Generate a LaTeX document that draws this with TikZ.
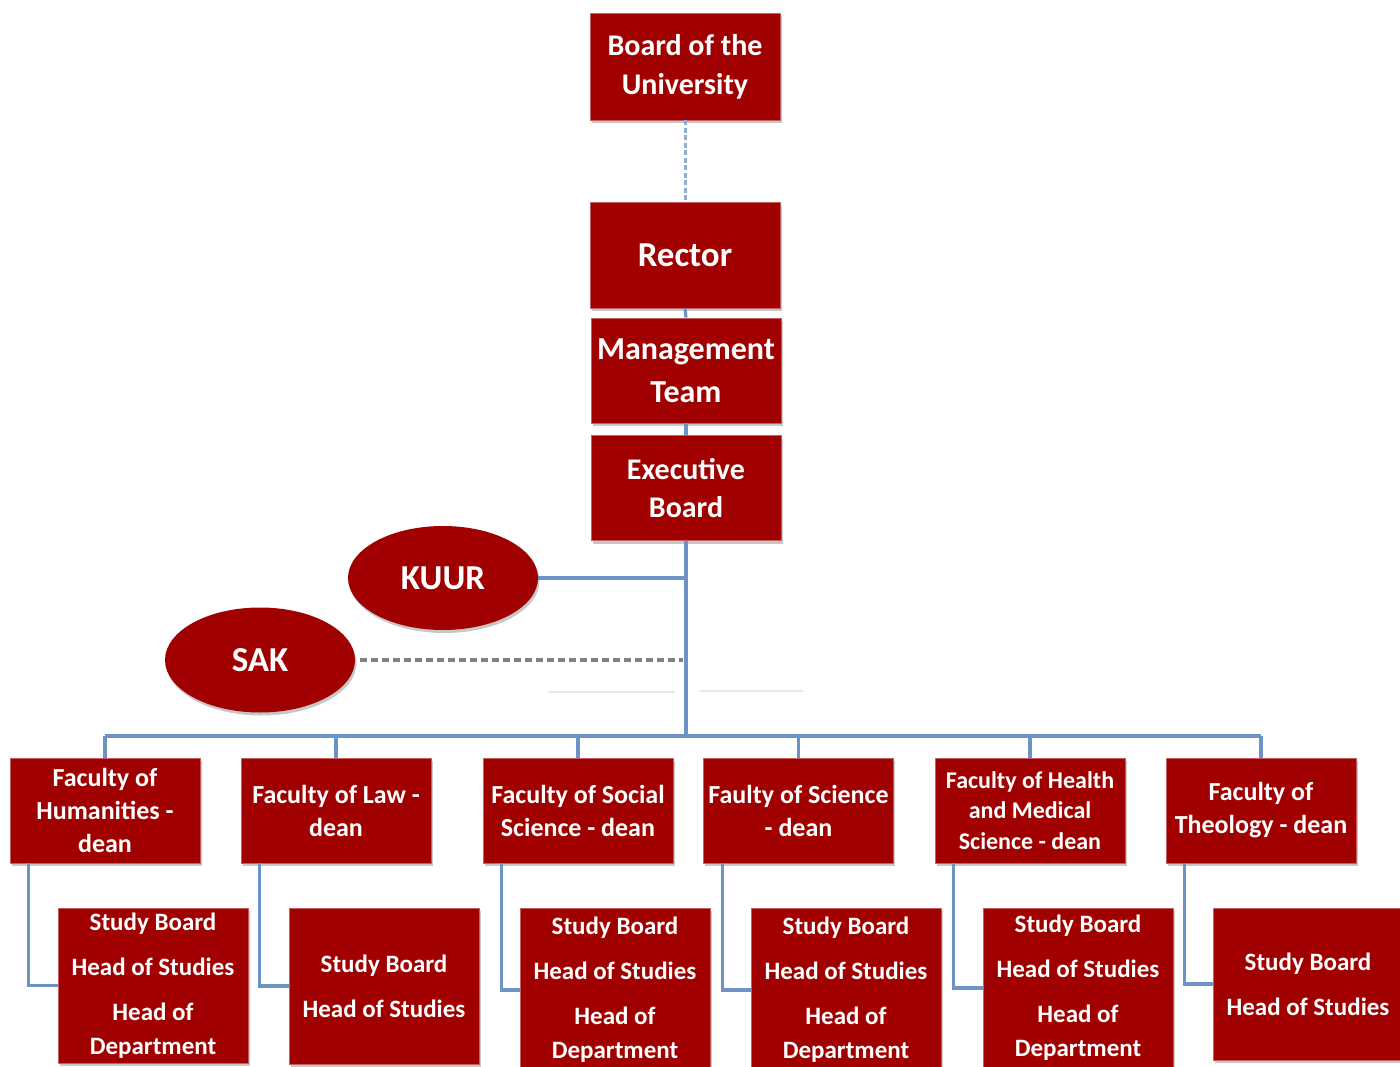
\documentclass[tikz,border=0pt]{standalone}
\usepackage{fontspec}
\setmainfont{Carlito}
\usetikzlibrary{shadows,shapes.geometric}

\definecolor{boxred}{RGB}{160,0,0}
\definecolor{boxedge}{RGB}{196,96,96}
\definecolor{linkblue}{RGB}{108,146,198}
\definecolor{dashgray}{RGB}{128,128,128}
\definecolor{faintgray}{RGB}{232,232,232}

\tikzset{
  unit/.style={fill=boxred, draw=boxedge, line width=0.8pt, text=white,
    align=center, inner sep=0pt, minimum width=190pt,
    drop shadow={shadow xshift=1.5pt, shadow yshift=-3pt, opacity=0.22, fill=black}},
  council/.style={ellipse, fill=boxred, draw=none, text=white, inner sep=0pt,
    minimum width=190pt, minimum height=104pt,
    font=\bfseries\fontsize{35}{40}\selectfont,
    drop shadow={shadow xshift=1.5pt, shadow yshift=-3pt, opacity=0.22, fill=black}},
  facfont/.style={font=\bfseries\fontsize{26}{33}\selectfont},
  sbfont/.style={font=\bfseries\fontsize{25}{34}\selectfont},
  link/.style={draw=linkblue, line width=3.2pt},
  softlink/.style={draw=linkblue!75, line width=3pt, dash pattern=on 5pt off 2.5pt},
  sakdash/.style={draw=dashgray, line width=3.2pt, dash pattern=on 7pt off 4pt},
  faint/.style={draw=faintgray, line width=2.5pt},
}

\begin{document}
\begin{tikzpicture}[x=1pt, y=-1pt]
  \useasboundingbox (0,0) rectangle (1400,1067);
  \fill[white] (0,0) rectangle (1400,1067);

  % central chain
  \node[unit, minimum height=107pt, font=\bfseries\fontsize{30}{39}\selectfont]
    (board) at (685,66.5) {Board of the\\University};
  \node[unit, minimum height=106pt, font=\bfseries\fontsize{35}{40}\selectfont]
    (rector) at (685,255) {Rector};
  \node[unit, minimum height=105pt, font=\bfseries\fontsize{32}{43}\selectfont]
    (mgmt) at (686,370.5) {Management\\Team};
  \node[unit, minimum height=105pt, font=\bfseries\fontsize{30}{38}\selectfont]
    (exec) at (686,488) {Executive\\Board};

  % councils beside the chain
  \node[council] (kuur) at (443,578) {KUUR};
  \node[council, minimum height=105pt] (sak) at (260,660) {SAK};

  % faculties
  \node[unit, minimum height=105pt, facfont] (fac1) at (105,810.5)
    {Faculty of\\Humanities -\\dean};
  \node[unit, minimum height=105pt, facfont] (fac2) at (336,810.5)
    {Faculty of Law -\\dean};
  \node[unit, minimum height=105pt, facfont] (fac3) at (578,810.5)
    {Faculty of Social\\Science - dean};
  \node[unit, minimum height=105pt, facfont] (fac4) at (798.5,810.5)
    {Faulty of Science\\- dean};
  \node[unit, minimum height=105pt, font=\bfseries\fontsize{24}{30.5}\selectfont]
    (fac5) at (1030,810.5) {Faculty of Health\\and Medical\\Science - dean};
  \node[unit, minimum height=105pt, facfont] (fac6) at (1261,810.5)
    {Faculty of\\Theology - dean};

  % study boards
  \node[unit, minimum height=155pt, sbfont] (sb1) at (153,985.5)
    {Study Board\\[11pt]Head of Studies\\[11pt]Head of\\Department};
  \node[unit, minimum height=156pt, sbfont] (sb2) at (384,986)
    {Study Board\\[11pt]Head of Studies};
  \node[unit, minimum height=164pt, sbfont] (sb3) at (615,990)
    {Study Board\\[11pt]Head of Studies\\[11pt]Head of\\Department};
  \node[unit, minimum height=164pt, sbfont] (sb4) at (846,990)
    {Study Board\\[11pt]Head of Studies\\[11pt]Head of\\Department};
  \node[unit, minimum height=160pt, sbfont] (sb5) at (1078,988)
    {Study Board\\[11pt]Head of Studies\\[11pt]Head of\\Department};
  \node[unit, minimum height=152pt, sbfont] (sb6) at (1308,984)
    {Study Board\\[11pt]Head of Studies};

  % connectors of the chain
  \coordinate (bus) at (686,736);
  \coordinate (sakend) at (683,660);
  \draw[softlink] (board.south) -- (rector.north);
  \draw[link] (rector.south) -- (mgmt.north);
  \draw[link] (mgmt.south) -- (exec.north);
  \draw[link] (exec.south) -- (bus);
  \draw[link] (kuur.east) -- (kuur.east -| exec.south);
  \draw[sakdash] ([xshift=5pt]sak.east) -- (sakend);

  % faint rules below the dashed line
  \draw[faint] (548,692) -- (675,692);
  \draw[faint] (700,691) -- (803,691);

  % bus to the faculties
  \draw[link] (fac1.north |- bus) -- (fac6.north |- bus);
  \foreach \f in {fac1,fac2,fac3,fac4,fac5,fac6}
    \draw[link] (\f.north) -- (\f.north |- bus);

  % faculties to their study boards
  \foreach \f/\s in {fac1/sb1,fac2/sb2,fac3/sb3,fac4/sb4,fac5/sb5,fac6/sb6}
    \draw[link] ([xshift=19pt]\f.south west) |- (\s.west);
\end{tikzpicture}
\end{document}
